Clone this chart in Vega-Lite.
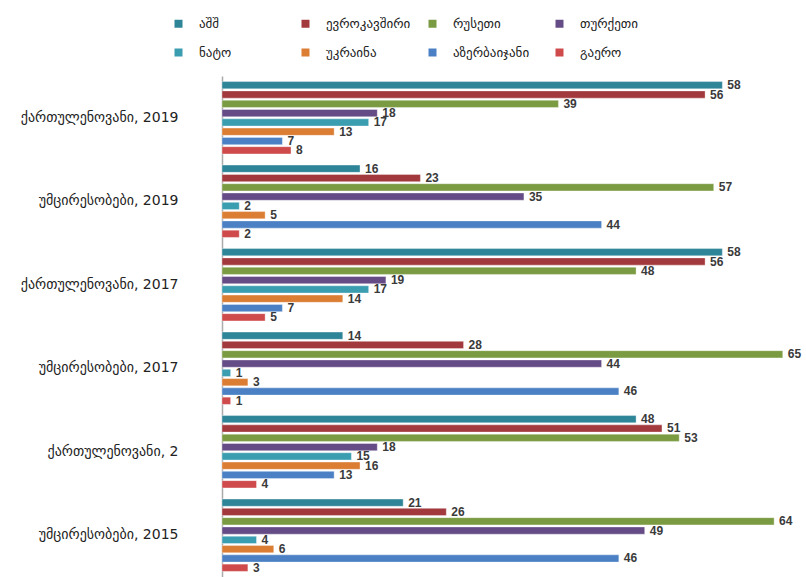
{
  "$schema": "https://vega.github.io/schema/vega-lite/v6.json",
  "autosize": "none",
  "padding": {"left": 222, "top": 76, "right": 6, "bottom": 0},
  "width": 578,
  "height": 501,
  "background": "white",
  "config": {"view": {"stroke": null}, "font": "DejaVu Sans"},
  "data": {"values": [
    {"group": "ქართულენოვანი, 2019", "country": "აშშ", "value": 58},
    {"group": "ქართულენოვანი, 2019", "country": "ევროკავშირი", "value": 56},
    {"group": "ქართულენოვანი, 2019", "country": "რუსეთი", "value": 39},
    {"group": "ქართულენოვანი, 2019", "country": "თურქეთი", "value": 18},
    {"group": "ქართულენოვანი, 2019", "country": "ნატო", "value": 17},
    {"group": "ქართულენოვანი, 2019", "country": "უკრაინა", "value": 13},
    {"group": "ქართულენოვანი, 2019", "country": "აზერბაიჯანი", "value": 7},
    {"group": "ქართულენოვანი, 2019", "country": "გაერო", "value": 8},
    {"group": "უმცირესობები, 2019", "country": "აშშ", "value": 16},
    {"group": "უმცირესობები, 2019", "country": "ევროკავშირი", "value": 23},
    {"group": "უმცირესობები, 2019", "country": "რუსეთი", "value": 57},
    {"group": "უმცირესობები, 2019", "country": "თურქეთი", "value": 35},
    {"group": "უმცირესობები, 2019", "country": "ნატო", "value": 2},
    {"group": "უმცირესობები, 2019", "country": "უკრაინა", "value": 5},
    {"group": "უმცირესობები, 2019", "country": "აზერბაიჯანი", "value": 44},
    {"group": "უმცირესობები, 2019", "country": "გაერო", "value": 2},
    {"group": "ქართულენოვანი, 2017", "country": "აშშ", "value": 58},
    {"group": "ქართულენოვანი, 2017", "country": "ევროკავშირი", "value": 56},
    {"group": "ქართულენოვანი, 2017", "country": "რუსეთი", "value": 48},
    {"group": "ქართულენოვანი, 2017", "country": "თურქეთი", "value": 19},
    {"group": "ქართულენოვანი, 2017", "country": "ნატო", "value": 17},
    {"group": "ქართულენოვანი, 2017", "country": "უკრაინა", "value": 14},
    {"group": "ქართულენოვანი, 2017", "country": "აზერბაიჯანი", "value": 7},
    {"group": "ქართულენოვანი, 2017", "country": "გაერო", "value": 5},
    {"group": "უმცირესობები, 2017", "country": "აშშ", "value": 14},
    {"group": "უმცირესობები, 2017", "country": "ევროკავშირი", "value": 28},
    {"group": "უმცირესობები, 2017", "country": "რუსეთი", "value": 65},
    {"group": "უმცირესობები, 2017", "country": "თურქეთი", "value": 44},
    {"group": "უმცირესობები, 2017", "country": "ნატო", "value": 1},
    {"group": "უმცირესობები, 2017", "country": "უკრაინა", "value": 3},
    {"group": "უმცირესობები, 2017", "country": "აზერბაიჯანი", "value": 46},
    {"group": "უმცირესობები, 2017", "country": "გაერო", "value": 1},
    {"group": "ქართულენოვანი, 2", "country": "აშშ", "value": 48},
    {"group": "ქართულენოვანი, 2", "country": "ევროკავშირი", "value": 51},
    {"group": "ქართულენოვანი, 2", "country": "რუსეთი", "value": 53},
    {"group": "ქართულენოვანი, 2", "country": "თურქეთი", "value": 18},
    {"group": "ქართულენოვანი, 2", "country": "ნატო", "value": 15},
    {"group": "ქართულენოვანი, 2", "country": "უკრაინა", "value": 16},
    {"group": "ქართულენოვანი, 2", "country": "აზერბაიჯანი", "value": 13},
    {"group": "ქართულენოვანი, 2", "country": "გაერო", "value": 4},
    {"group": "უმცირესობები, 2015", "country": "აშშ", "value": 21},
    {"group": "უმცირესობები, 2015", "country": "ევროკავშირი", "value": 26},
    {"group": "უმცირესობები, 2015", "country": "რუსეთი", "value": 64},
    {"group": "უმცირესობები, 2015", "country": "თურქეთი", "value": 49},
    {"group": "უმცირესობები, 2015", "country": "ნატო", "value": 4},
    {"group": "უმცირესობები, 2015", "country": "უკრაინა", "value": 6},
    {"group": "უმცირესობები, 2015", "country": "აზერბაიჯანი", "value": 46},
    {"group": "უმცირესობები, 2015", "country": "გაერო", "value": 3}
  ]},
  "encoding": {
    "y": {
      "field": "group", "type": "nominal", "sort": null,
      "scale": {"paddingInner": 0.111, "paddingOuter": 0.056},
      "axis": {"title": null, "ticks": false, "labelPadding": 44, "labelFontSize": 14, "labelColor": "#222222", "domainColor": "#aaaaaa", "domainWidth": 1.5, "labelFont": "DejaVu Sans"}
    },
    "yOffset": {
      "field": "country", "type": "nominal",
      "sort": ["აშშ", "ევროკავშირი", "რუსეთი", "თურქეთი", "ნატო", "უკრაინა", "აზერბაიჯანი", "გაერო"],
      "scale": {"paddingInner": 0.22, "paddingOuter": 0.1}
    },
    "x": {
      "field": "value", "type": "quantitative",
      "scale": {"domain": [0, 67], "nice": false},
      "axis": null
    }
  },
  "layer": [
    {
      "mark": {"type": "bar", "stroke": "#ffffff", "strokeWidth": 0.6, "strokeOpacity": 0.6},
      "encoding": {
        "color": {
          "field": "country", "type": "nominal",
          "scale": {
            "domain": ["აშშ", "ევროკავშირი", "რუსეთი", "თურქეთი", "ნატო", "უკრაინა", "აზერბაიჯანი", "გაერო"],
            "range": ["#2F8598", "#A23A3D", "#7B9B42", "#664C86", "#3B9DB0", "#DB7D33", "#4B80C4", "#CE4A4B"]
          },
          "legend": {
            "title": null, "orient": "none", "direction": "horizontal", "columns": 4,
            "gridAlign": "all", "legendX": -50, "legendY": -59,
            "symbolType": "square", "symbolSize": 64, "symbolStrokeWidth": 0,
            "labelFontSize": 13, "labelColor": "#222222", "labelOffset": 14,
            "columnPadding": 15, "rowPadding": 15, "labelFont": "DejaVu Sans"
          }
        }
      }
    },
    {
      "mark": {"type": "text", "align": "left", "dx": 5, "fontWeight": "bold", "fontSize": 12, "color": "#3a3a3a", "font": "Liberation Sans"},
      "encoding": {
        "text": {"field": "value", "type": "quantitative"}
      }
    }
  ]
}
